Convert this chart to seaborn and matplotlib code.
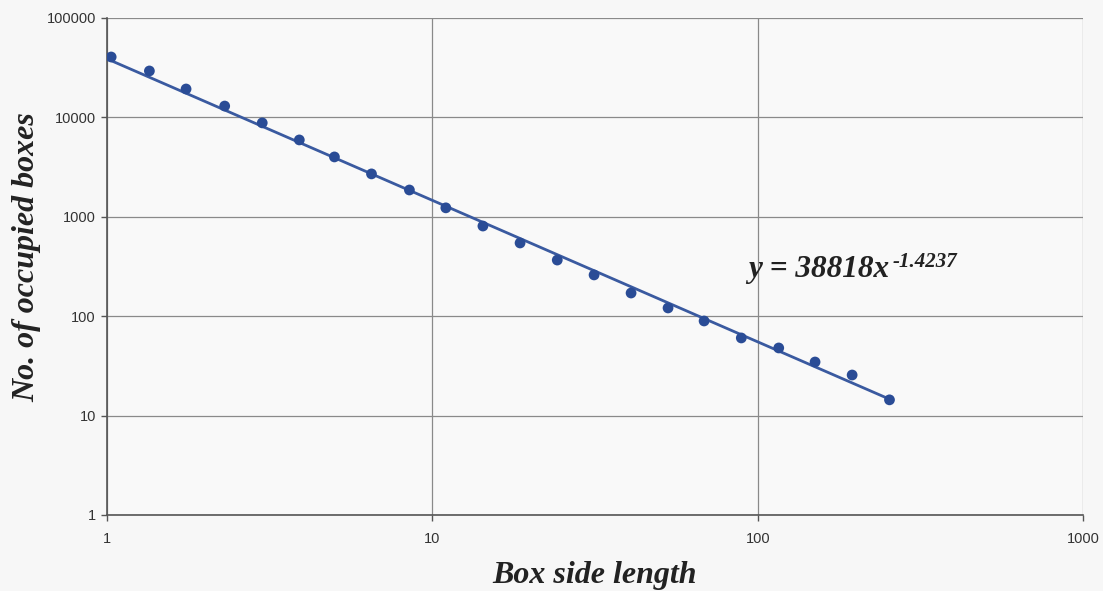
import numpy as np
import pandas as pd
import matplotlib
matplotlib.use("Agg")
import matplotlib.pyplot as plt
import seaborn as sns

# Data
box_side = [1.03, 1.35, 1.75, 2.3, 3.0, 3.9, 5.0, 6.5, 8.5, 11.0, 14.3, 18.6,
            24.2, 31.4, 40.8, 53.0, 68.4, 89.0, 116.0, 150.0, 195.0, 254.0]
occupied = [40500, 29300, 19300, 13000, 8800, 5930, 4000, 2700, 1860, 1230, 807, 545,
            367, 260, 171, 121, 89.5, 60.4, 47.9, 34.6, 25.6, 14.4]
fit_a = 38818
fit_b = -1.4237
x_ticks = [1, 10, 100, 1000]
y_ticks = [1, 10, 100, 1000, 10000, 100000]

df = pd.DataFrame({"x": box_side, "y": occupied})
fit_x = np.array([1.0, box_side[-1]])
fit_df = pd.DataFrame({"x": fit_x, "y": fit_a * fit_x ** fit_b})

sns.set_theme(style="white")
plt.rcParams["font.family"] = ["Liberation Sans", "DejaVu Sans"]

fig = plt.figure(figsize=(11.03, 5.91), dpi=100, facecolor="#f7f7f7")
ax = fig.add_axes([0.097, 0.1286, 0.885, 0.841])
ax.set_facecolor("#f9f9f9")

line_color = "#3a5aa0"
pt_color = "#2a4c96"

sns.lineplot(data=fit_df, x="x", y="y", ax=ax, color=line_color, linewidth=2.0, zorder=3)
sns.scatterplot(data=df, x="x", y="y", ax=ax, color=pt_color, s=60, edgecolor="none", zorder=4)

ax.set_xscale("log")
ax.set_yscale("log")
ax.set_xlim(1, 1000)
ax.set_ylim(1, 100000)
ax.set_xticks(x_ticks)
ax.set_xticklabels([str(t) for t in x_ticks])
ax.set_yticks(y_ticks)
ax.set_yticklabels([str(t) for t in y_ticks])
ax.minorticks_off()
ax.grid(True, which="major", color="#8a8a8a", linewidth=0.9)
ax.tick_params(axis="both", which="major", length=4, width=1, color="#555555",
               labelsize=10.5, labelcolor="#333333", direction="out", bottom=True, left=True)
ax.tick_params(axis="x", pad=8)
ax.tick_params(axis="y", pad=4)
ax.set_xlabel("")
ax.set_ylabel("")

for side in ["top", "right"]:
    ax.spines[side].set_visible(False)
for side in ["left", "bottom"]:
    ax.spines[side].set_color("#555555")
    ax.spines[side].set_linewidth(1.2)

serif = ["Liberation Serif", "DejaVu Serif"]
label_font = dict(family=serif, weight="bold", style="italic", size=23, color="#222222")
fig.text(595 / 1103, 1 - 576 / 591, "Box side length", ha="center", va="center", **label_font)
fig.text(27 / 1103, 1 - 257 / 591, "No. of occupied boxes", ha="center", va="center",
         rotation=90, **label_font)

eq = ax.text(0.657, 0.479, "y = 38818x", transform=ax.transAxes, ha="left", va="baseline",
             family=serif, weight="bold", style="italic", size=22.5, color="#222222")
ax.annotate("-1.4237", xy=(1, 0), xycoords=eq, xytext=(2, 12), textcoords="offset points",
            ha="left", va="baseline", family=serif, weight="bold", style="italic",
            size=15, color="#222222")

fig.savefig("out.png", dpi=100, facecolor=fig.get_facecolor())
